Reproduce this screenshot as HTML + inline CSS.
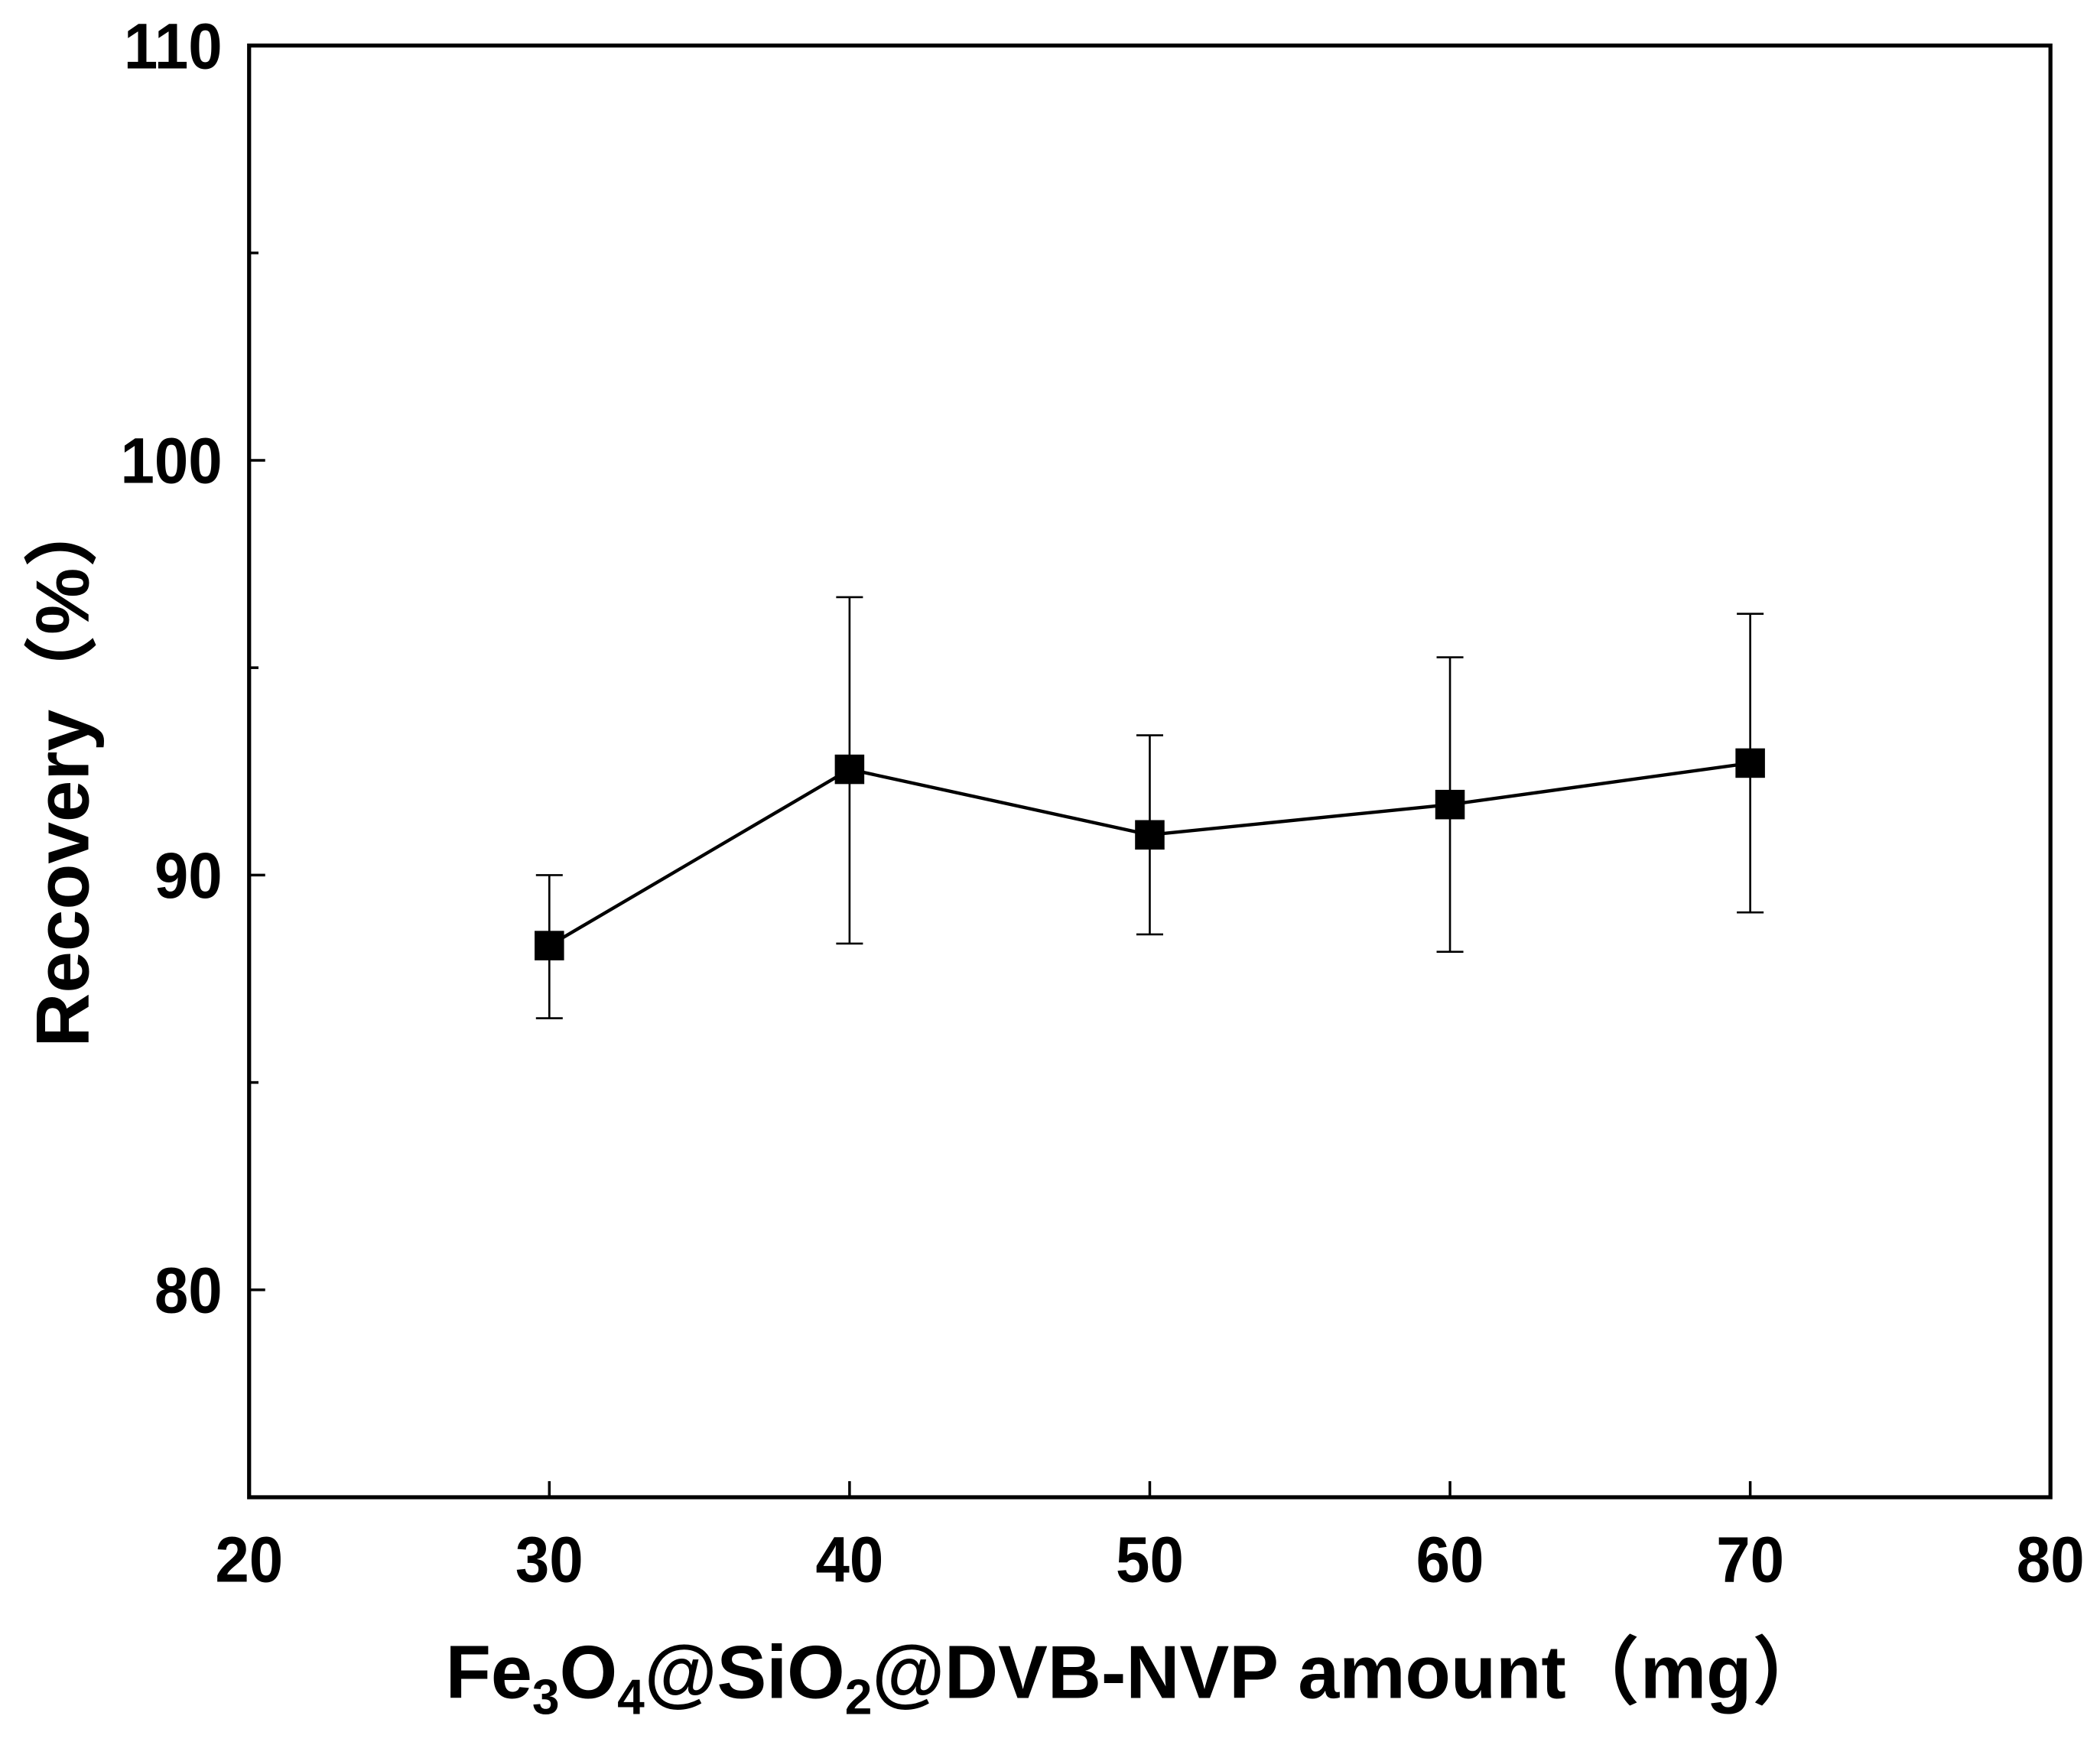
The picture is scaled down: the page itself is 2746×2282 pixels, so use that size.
<!DOCTYPE html>
<html><head><meta charset="utf-8"><style>
html,body{margin:0;padding:0;background:#fff;}
svg{display:block;}
text{font-family:"Liberation Sans","Noto Sans CJK SC",sans-serif;font-weight:bold;fill:#000;}
</style></head><body>
<svg id="chart" width="2746" height="2282" viewBox="0 0 1568 1303" preserveAspectRatio="none" xmlns="http://www.w3.org/2000/svg">
<rect x="0" y="0" width="1568" height="1303" fill="#fff"/>
<g id="axes"></g>
<g id="marks"></g>
<text transform="translate(66,575) rotate(-90)" text-anchor="middle" font-size="56">Recovery（%）</text>
<text transform="translate(848,1268) scale(0.99,1)" text-anchor="middle" font-size="56">Fe<tspan font-size="37" dy="12">3</tspan><tspan dy="-12">O</tspan><tspan font-size="37" dy="12">4</tspan><tspan dy="-12">@SiO</tspan><tspan font-size="37" dy="12">2</tspan><tspan dy="-12">@DVB-NVP amount（mg）</tspan></text>
</svg>
<script>
const categories=[30,40,50,60,70];
const recovery=[88.3,92.55,90.97,91.7,92.7];
const errUp=[1.7,4.15,2.4,3.55,3.6];
const errDown=[1.75,4.2,2.4,3.55,3.6];
const xTicks=[20,30,40,50,60,70,80];
const yTicks=[80,90,100,110];
const yMinor=[85,95,105];
const L=186,R=1531,T=34,B=1118;
const X0=20,X1=80,Y0=75,Y1=110;
function sx(v){return L+(v-X0)/(X1-X0)*(R-L);}
function sy(v){return B-(v-Y0)/(Y1-Y0)*(B-T);}
const NS="http://www.w3.org/2000/svg";
function mk(tag,attrs,parent){const e=document.createElementNS(NS,tag);for(const k in attrs)e.setAttribute(k,attrs[k]);parent.appendChild(e);return e;}
const ax=document.getElementById('axes'),mg=document.getElementById('marks');
let f=mk('rect',{x:L,y:T,width:R-L,height:B-T,fill:'none',stroke:'#000','stroke-width':3},ax);


xTicks.forEach(v=>{
  let t=mk('line',{x1:sx(v),x2:sx(v),y1:B,y2:B-12,stroke:'#000','stroke-width':2},ax);
  
  
  let l=mk('text',{x:0,y:0,'text-anchor':'middle','font-size':48,transform:`translate(${sx(v)},${B+63}) scale(0.95,1)`},ax);
  l.textContent=v;
  
  
});
yTicks.forEach(v=>{
  let t=mk('line',{x1:L,x2:L+12,y1:sy(v),y2:sy(v),stroke:'#000','stroke-width':2},ax);
  
  
  let l=mk('text',{x:0,y:0,'text-anchor':'end','font-size':48,transform:`translate(${L-20},${sy(v)+17}) scale(0.95,1)`},ax);
  l.textContent=v;
  
  
});
yMinor.forEach(v=>{
  let t=mk('line',{x1:L,x2:L+7,y1:sy(v),y2:sy(v),stroke:'#000','stroke-width':2},ax);
  
  
});
const pts=categories.map((c,i)=>sx(c)+','+sy(recovery[i])).join(' ');
let line=mk('polyline',{points:pts,fill:'none',stroke:'#000','stroke-width':2.5},mg);


categories.forEach((c,i)=>{
  const x=sx(c),yt=sy(recovery[i]+errUp[i]),yb=sy(recovery[i]-errDown[i]);
  let g=mk('g',{},mg);
  
  
  mk('line',{x1:x,x2:x,y1:yt,y2:yb,stroke:'#000','stroke-width':1.5},g);
  mk('line',{x1:x-10,x2:x+10,y1:yt,y2:yt,stroke:'#000','stroke-width':1.5},g);
  mk('line',{x1:x-10,x2:x+10,y1:yb,y2:yb,stroke:'#000','stroke-width':1.5},g);
  let m=mk('rect',{x:x-11,y:sy(recovery[i])-11,width:22,height:22,fill:'#000'},mg);
  
  
});
</script>
</body></html>
